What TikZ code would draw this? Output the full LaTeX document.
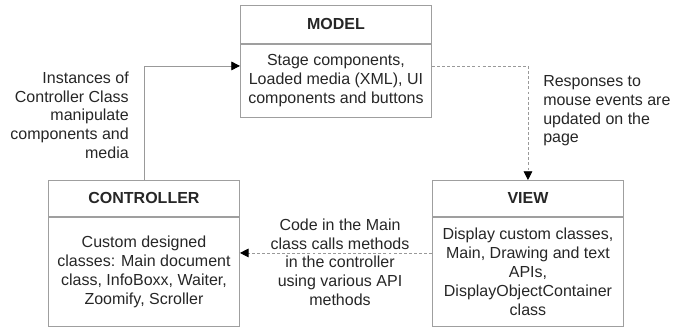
\documentclass[tikz,border=0pt]{standalone}
\usepackage{fontspec}
\setmainfont{Liberation Sans}
\usetikzlibrary{positioning,arrows.meta}

\tikzset{
  boxhead/.style={draw=gray!75, line width=0.7pt, minimum width=143.25pt, inner sep=2pt,
    font=\fontsize{12}{14}\selectfont\bfseries, text=black!85},
  boxbody/.style={draw=gray!75, line width=0.7pt, minimum width=143.25pt, inner sep=2pt,
    align=center, font=\fontsize{12}{14.3}\selectfont, text=black!85},
  note/.style={font=\fontsize{12}{14}\selectfont, text=black!85, inner sep=0pt},
  link/.style={draw=gray!80, line width=0.6pt},
  dlink/.style={link, dash pattern=on 2.2pt off 1.6pt}
}

\begin{document}
\begin{tikzpicture}[x=0.75pt, y=-0.75pt, >={Triangle[length=6.5pt,width=6.5pt,color=black]}]
        \useasboundingbox (0,0) rectangle (674,326);
        % model
        \node [boxhead, minimum height=28.5pt, anchor=north west] (modelhead) at (240,5) {MODEL};
        \node [boxbody, minimum height=54.75pt, below=0pt of modelhead] (modelbody)
          {Stage components,\\ Loaded media (XML), UI\\ components and buttons};
        % controller
        \node [boxhead, minimum height=27pt, anchor=north west] (ctrlhead) at (48,180) {CONTROLLER};
        \node [boxbody, minimum height=81.75pt, below=0pt of ctrlhead] (ctrlbody)
          {Custom designed\\ classes: Main document\\ class, InfoBoxx, Waiter,\\ Zoomify, Scroller};
        % view
        \node [boxhead, minimum height=27pt, anchor=north west] (viewhead) at (432,180) {VIEW};
        \node [boxbody, minimum height=81.75pt, below=0pt of viewhead] (viewbody)
          {Display custom classes,\\ Main, Drawing and text\\ APIs,\\ DisplayObjectContainer\\ class};
        % labels
        \node [note, align=right, anchor=east] (ctrltext) at (129,115)
          {Instances of\\ Controller Class\\ manipulate\\ components and\\ media};
        \node [note, align=left, anchor=west] (viewtext) at (543,111)
          {Responses to\\ mouse events are\\ updated on the\\ page};
        \node [note, align=center] (calltext) at (340,262)
          {Code in the Main\\ class calls methods\\ in the controller\\ using various API\\ methods};
        % connectors
        \draw [link, ->] (ctrlhead.north) |- ([yshift=-16.5pt]modelbody.north west);
        \draw [dlink, ->] ([yshift=-16.5pt]modelbody.north east) -| (viewhead.north);
        \draw [dlink, ->] ([yshift=-27pt]viewbody.north west) -- ([yshift=-27pt]ctrlbody.north east);
      \end{tikzpicture}
\end{document}
